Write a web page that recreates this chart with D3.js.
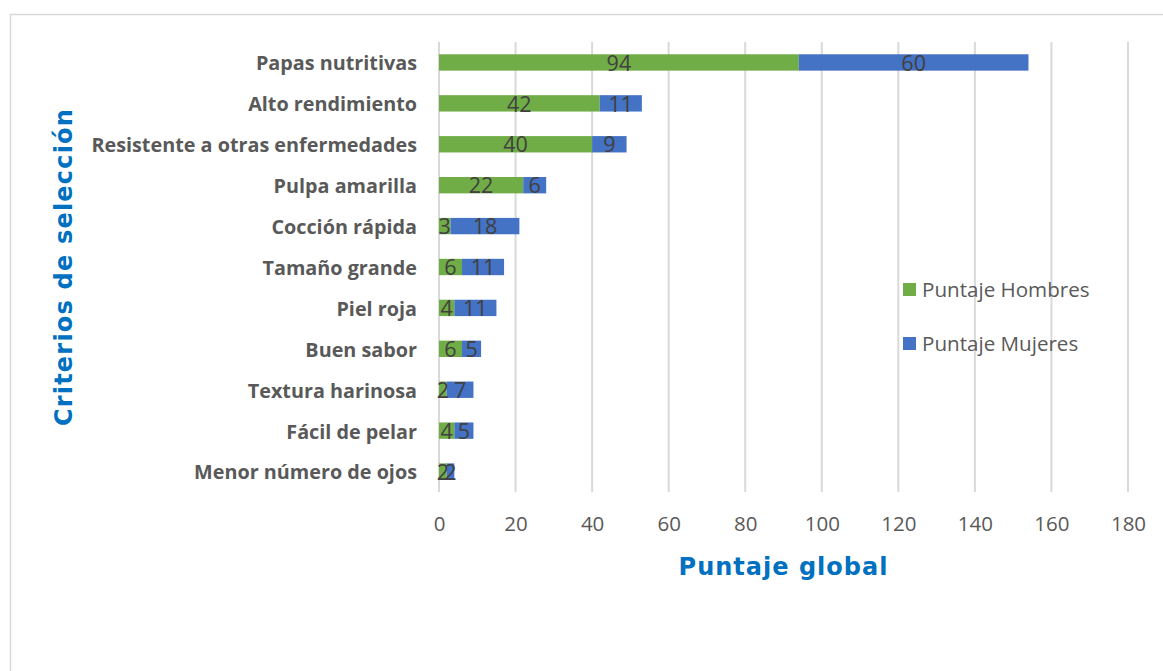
<!DOCTYPE html>
<html>
<head>
<meta charset="utf-8">
<script src="https://cdn.jsdelivr.net/npm/d3@7"></script>
<style>
  html, body { margin: 0; padding: 0; background: #fff; }
  svg { display: block; }
</style>
</head>
<body>
<svg id="chart" width="1163" height="671"></svg>
<script>
const categories = [
  "Papas nutritivas",
  "Alto rendimiento",
  "Resistente a otras enfermedades",
  "Pulpa amarilla",
  "Cocción rápida",
  "Tamaño grande",
  "Piel roja",
  "Buen sabor",
  "Textura harinosa",
  "Fácil de pelar",
  "Menor número de ojos"
];
const hombres = [94, 42, 40, 22, 3, 6, 4, 6, 2, 4, 2];
const mujeres = [60, 11, 9, 6, 18, 11, 11, 5, 7, 5, 2];
const seriesNames = ["Puntaje Hombres", "Puntaje Mujeres"];
const seriesColors = ["#70AD47", "#4472C4"];
const xTicks = [0, 20, 40, 60, 80, 100, 120, 140, 160, 180];
const xTitle = "Puntaje global";
const yTitle = "Criterios de selección";

const svg = d3.select("#chart");
const plot = { left: 439, right: 1128, top: 42, bottom: 492 };
const FONT = "'Open Sans', 'Noto Sans', sans-serif";

// outer frame
svg.append("rect")
  .attr("x", 10.5).attr("y", 14.5)
  .attr("width", 1170).attr("height", 700)
  .attr("fill", "none").attr("stroke", "#d9d9d9").attr("stroke-width", 1.5);

const x = d3.scaleLinear().domain([0, 180]).range([plot.left, plot.right]);
const y = d3.scaleBand().domain(categories).range([plot.top, plot.bottom]).paddingInner(0.6).paddingOuter(0.3);

// gridlines
svg.append("g").selectAll("line").data(xTicks).join("line")
  .attr("x1", d => x(d)).attr("x2", d => x(d))
  .attr("y1", plot.top).attr("y2", plot.bottom)
  .attr("stroke", "#d9d9d9").attr("stroke-width", 2);

// x axis tick labels
const xAxis = d3.axisBottom(x).tickValues(xTicks).tickSize(0).tickPadding(0).tickFormat(d3.format("d"));
const gx = svg.append("g").attr("transform", `translate(0,${plot.bottom + 24})`).call(xAxis);
gx.select(".domain").remove();
gx.selectAll("text")
  .attr("font-family", FONT)
  .attr("font-size", 20.5).attr("fill", "#595959").attr("dy", "0.71em");

// y axis labels
const yAxis = d3.axisLeft(y).tickSize(0).tickPadding(22);
const gy = svg.append("g").attr("transform", `translate(${plot.left},0)`).call(yAxis);
gy.select(".domain").remove();
gy.selectAll("text")
  .attr("font-family", FONT)
  .attr("font-weight", "bold")
  .attr("font-size", 19.8).attr("fill", "#595959").attr("dy", "0.4em");

// stacked bars
const rows = categories.map((c, i) => ({ cat: c, h: hombres[i], m: mujeres[i] }));
const stack = d3.stack().keys(["h", "m"])(rows);

const gBars = svg.append("g");
stack.forEach((layer, li) => {
  gBars.append("g").selectAll("rect").data(layer).join("rect")
    .attr("x", d => x(d[0]))
    .attr("y", d => y(d.data.cat))
    .attr("width", d => x(d[1]) - x(d[0]))
    .attr("height", y.bandwidth())
    .attr("fill", seriesColors[li]);
});
stack.forEach((layer, li) => {
  gBars.append("g").selectAll("text").data(layer).join("text")
    .attr("x", d => (x(d[0]) + x(d[1])) / 2)
    .attr("y", d => y(d.data.cat) + y.bandwidth() / 2)
    .attr("dy", "0.38em")
    .attr("text-anchor", "middle")
    .attr("font-family", FONT)
    .attr("font-size", 21.5)
    .attr("fill", "#404040")
    .text(d => d[1] - d[0]);
});

// legend
const legend = svg.append("g");
seriesNames.forEach((name, i) => {
  const ly = 290 + i * 54;
  legend.append("rect")
    .attr("x", 903).attr("y", ly - 7).attr("width", 13).attr("height", 13)
    .attr("fill", seriesColors[i]);
  legend.append("text")
    .attr("x", 922).attr("y", ly).attr("dy", "0.35em")
    .attr("font-family", FONT)
    .attr("font-size", 20.6).attr("fill", "#595959")
    .text(name);
});

// axis titles
svg.append("text")
  .attr("x", (plot.left + plot.right) / 2).attr("y", 575)
  .attr("text-anchor", "middle")
  .attr("font-family", "'DejaVu Sans', sans-serif")
  .attr("font-weight", "bold")
  .attr("letter-spacing", 1)
  .attr("font-size", 24).attr("fill", "#0070C0")
  .text(xTitle);

svg.append("text")
  .attr("transform", `translate(72,${(plot.top + plot.bottom) / 2}) rotate(-90)`)
  .attr("text-anchor", "middle")
  .attr("font-family", "'DejaVu Sans', sans-serif")
  .attr("font-weight", "bold")
  .attr("letter-spacing", 1.2)
  .attr("font-size", 24).attr("fill", "#0070C0")
  .text(yTitle);
</script>
</body>
</html>
